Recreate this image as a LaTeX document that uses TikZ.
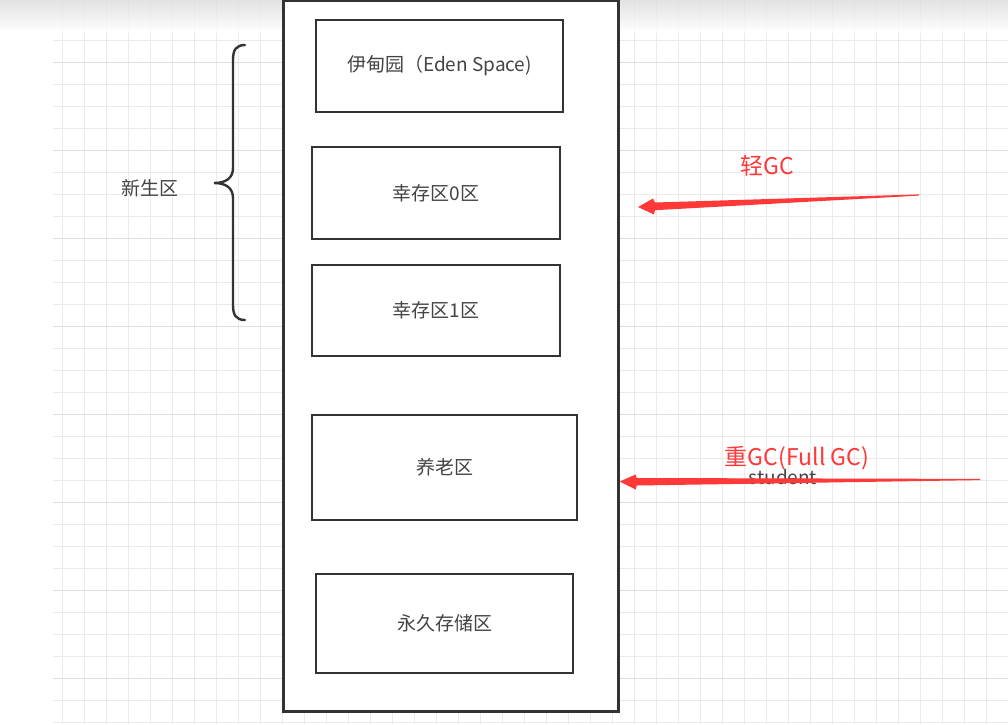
\documentclass[tikz,border=0pt]{standalone}
\usepackage{fontspec}
\setmainfont{Noto Sans CJK SC}
\usetikzlibrary{calc}
\definecolor{gridminor}{HTML}{EAEAEA}
\definecolor{gridmajor}{HTML}{DEDEDE}
\definecolor{ink}{HTML}{333333}
\definecolor{txt}{HTML}{444444}
\definecolor{gcred}{HTML}{FF3838}
\tikzset{
  box/.style={draw=ink, line width=2.4pt, fill=white, inner sep=0pt, text=txt,
    font=\fontsize{19}{22}\selectfont},
  lbl/.style={text=txt, inner sep=0pt, font=\fontsize{19}{22}\selectfont},
  redlbl/.style={text=gcred, inner sep=0pt, font=\fontsize{23}{27}\selectfont},
  brace/.style={draw=ink, line width=2.4pt, line cap=round},
  gcarrow/.style={fill=gcred, draw=none}
}
\begin{document}
\begin{tikzpicture}[x=1pt,y=-1pt]
\useasboundingbox (0,0) rectangle (1008,724);
\fill[white] (0,0) rectangle (1008,724);
% grid
\foreach \k in {0,...,43} {
  \draw[gridminor, line width=0.9pt] ({62+22*\k},0) -- ({62+22*\k},724);
}
\foreach \k in {0,...,32} {
  \draw[gridminor, line width=0.9pt] (53,{18+22*\k}) -- (1008,{18+22*\k});
}
\foreach \k in {0,...,8} {
  \draw[gridmajor, line width=1pt] (53,{62+88*\k}) -- (1008,{62+88*\k});
}
% top shadow
\shade[top color=black!14, bottom color=white, fill opacity=0.8] (0,0) rectangle (1008,32);
% heap
\node[box, minimum width=335pt, minimum height=711pt] (heap) at (451,356) {};
\node[box, minimum width=247pt, minimum height=92pt] (eden) at (439.5,66) {\raisebox{-1.5pt}{伊甸园（Eden Space)}};
\node[box, minimum width=248pt, minimum height=92pt] (s0) at (436,193) {\raisebox{-1pt}{幸存区0区}};
\node[box, minimum width=248pt, minimum height=91pt] (s1) at (436,310.5) {\raisebox{-1pt}{幸存区1区}};
\node[box, minimum width=265pt, minimum height=105pt] (old) at (444.5,467.5) {养老区};
\node[box, minimum width=257pt, minimum height=99pt] (perm) at (444.5,623.5) {\raisebox{-2pt}{永久存储区}};
% brace
\coordinate (bt) at (245,45);
\coordinate (bm) at (214,183);
\coordinate (bb) at (245,320);
\draw[brace] (bt) .. controls (236,45) and (233,50) .. (233,60)
  -- (233,168) .. controls (233,178) and (226,183) .. (bm)
  .. controls (226,183) and (233,188) .. (233,198)
  -- (233,305) .. controls (233,315) and (236,320) .. (bb);
\node[lbl] (young) at (150,188) {新生区};
% GC labels
\node[redlbl] (light) at (767,166) {轻GC};
\node[lbl] (student) at (783,477) {student};
\node[redlbl] (full) at (797,458) {重GC(Full GC)};
% arrows
\coordinate (g1tail) at (919,195);
\coordinate (g1tip) at (638,207);
\fill[gcarrow] ($(g1tail)+(0,-0.6)$) -- ($(g1tip)+(17,-4.5)$) -- ($(g1tip)+(15,-8.5)$)
  -- (g1tip) -- ($(g1tip)+(16,7.5)$) -- ($(g1tip)+(17,3.2)$) -- ($(g1tail)+(0,0.6)$) -- cycle;
\coordinate (g2tail) at (980,479.5);
\coordinate (g2tip) at ($(heap.east)+(0,125.5)$);
\fill[gcarrow] ($(g2tail)+(0,-0.6)$) -- ($(g2tip)+(17,-3.5)$) -- ($(g2tip)+(16,-7)$)
  -- (g2tip) -- ($(g2tip)+(16,8)$) -- ($(g2tip)+(17,4)$) -- ($(g2tail)+(0,0.6)$) -- cycle;
\end{tikzpicture}
\end{document}
